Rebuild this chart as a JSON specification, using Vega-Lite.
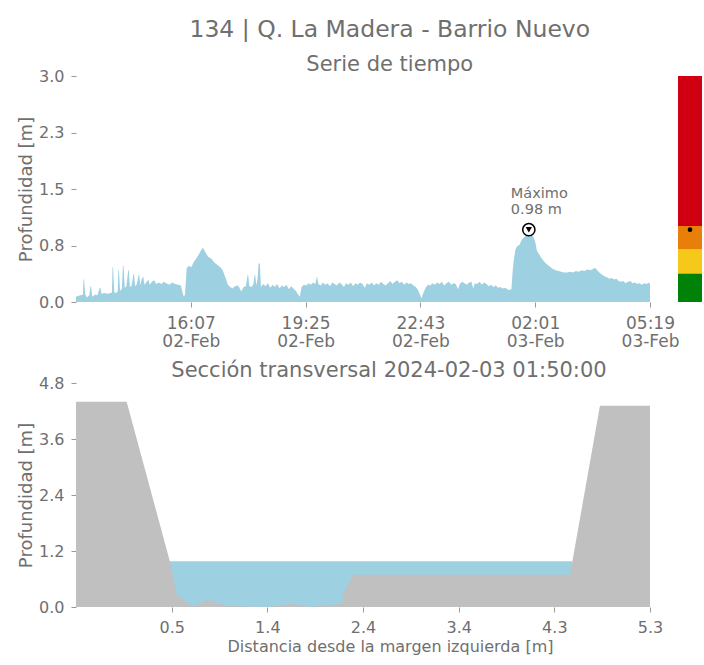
{
  "$schema": "https://vega.github.io/schema/vega-lite/v6.json",
  "background": "white",
  "padding": {"left": 17, "top": 17, "right": 2, "bottom": 5},
  "title": {"text": "134 | Q. La Madera - Barrio Nuevo", "fontSize": 23.5, "anchor": "middle", "offset": 8, "dx": 30, "dy": -5},
  "datasets": {
    "ts": [
      {"t": "2024-02-02T12:49", "v": 0.07}, {"t": "2024-02-02T12:52", "v": 0.08}, {"t": "2024-02-02T12:57", "v": 0.09},
      {"t": "2024-02-02T13:01", "v": 0.10}, {"t": "2024-02-02T13:02", "v": 0.30}, {"t": "2024-02-02T13:03", "v": 0.30}, {"t": "2024-02-02T13:05", "v": 0.10},
      {"t": "2024-02-02T13:08", "v": 0.06}, {"t": "2024-02-02T13:12", "v": 0.09}, {"t": "2024-02-02T13:14", "v": 0.21}, {"t": "2024-02-02T13:15", "v": 0.21},
      {"t": "2024-02-02T13:17", "v": 0.07}, {"t": "2024-02-02T13:22", "v": 0.10}, {"t": "2024-02-02T13:26", "v": 0.09},
      {"t": "2024-02-02T13:30", "v": 0.19}, {"t": "2024-02-02T13:31", "v": 0.19}, {"t": "2024-02-02T13:33", "v": 0.11}, {"t": "2024-02-02T13:38", "v": 0.12},
      {"t": "2024-02-02T13:44", "v": 0.11}, {"t": "2024-02-02T13:49", "v": 0.12}, {"t": "2024-02-02T13:51", "v": 0.13},
      {"t": "2024-02-02T13:52", "v": 0.46}, {"t": "2024-02-02T13:53", "v": 0.46}, {"t": "2024-02-02T13:55", "v": 0.13}, {"t": "2024-02-02T13:58", "v": 0.12},
      {"t": "2024-02-02T14:01", "v": 0.14}, {"t": "2024-02-02T14:02", "v": 0.42}, {"t": "2024-02-02T14:03", "v": 0.42}, {"t": "2024-02-02T14:05", "v": 0.15},
      {"t": "2024-02-02T14:08", "v": 0.17}, {"t": "2024-02-02T14:10", "v": 0.48}, {"t": "2024-02-02T14:11", "v": 0.48}, {"t": "2024-02-02T14:13", "v": 0.19},
      {"t": "2024-02-02T14:16", "v": 0.21}, {"t": "2024-02-02T14:19", "v": 0.42}, {"t": "2024-02-02T14:20", "v": 0.42}, {"t": "2024-02-02T14:22", "v": 0.20},
      {"t": "2024-02-02T14:25", "v": 0.22}, {"t": "2024-02-02T14:28", "v": 0.37}, {"t": "2024-02-02T14:29", "v": 0.37}, {"t": "2024-02-02T14:31", "v": 0.21},
      {"t": "2024-02-02T14:34", "v": 0.24}, {"t": "2024-02-02T14:37", "v": 0.36}, {"t": "2024-02-02T14:38", "v": 0.36}, {"t": "2024-02-02T14:40", "v": 0.22},
      {"t": "2024-02-02T14:42", "v": 0.30}, {"t": "2024-02-02T14:45", "v": 0.34}, {"t": "2024-02-02T14:47", "v": 0.23},
      {"t": "2024-02-02T14:50", "v": 0.26}, {"t": "2024-02-02T14:54", "v": 0.30}, {"t": "2024-02-02T14:56", "v": 0.23},
      {"t": "2024-02-02T15:00", "v": 0.27}, {"t": "2024-02-02T15:04", "v": 0.29}, {"t": "2024-02-02T15:07", "v": 0.24},
      {"t": "2024-02-02T15:12", "v": 0.26}, {"t": "2024-02-02T15:17", "v": 0.24}, {"t": "2024-02-02T15:20", "v": 0.27},
      {"t": "2024-02-02T15:25", "v": 0.25}, {"t": "2024-02-02T15:30", "v": 0.23}, {"t": "2024-02-02T15:35", "v": 0.26},
      {"t": "2024-02-02T15:40", "v": 0.24}, {"t": "2024-02-02T15:45", "v": 0.23}, {"t": "2024-02-02T15:50", "v": 0.22},
      {"t": "2024-02-02T15:53", "v": 0.12}, {"t": "2024-02-02T15:55", "v": 0.07}, {"t": "2024-02-02T15:57", "v": 0.10},
      {"t": "2024-02-02T16:00", "v": 0.45}, {"t": "2024-02-02T16:04", "v": 0.48}, {"t": "2024-02-02T16:08", "v": 0.46},
      {"t": "2024-02-02T16:12", "v": 0.53}, {"t": "2024-02-02T16:15", "v": 0.56}, {"t": "2024-02-02T16:20", "v": 0.62},
      {"t": "2024-02-02T16:25", "v": 0.69}, {"t": "2024-02-02T16:28", "v": 0.72}, {"t": "2024-02-02T16:32", "v": 0.66},
      {"t": "2024-02-02T16:37", "v": 0.60}, {"t": "2024-02-02T16:43", "v": 0.57}, {"t": "2024-02-02T16:48", "v": 0.52},
      {"t": "2024-02-02T16:53", "v": 0.49}, {"t": "2024-02-02T16:58", "v": 0.46}, {"t": "2024-02-02T17:02", "v": 0.42},
      {"t": "2024-02-02T17:05", "v": 0.36}, {"t": "2024-02-02T17:08", "v": 0.30}, {"t": "2024-02-02T17:11", "v": 0.23},
      {"t": "2024-02-02T17:15", "v": 0.20}, {"t": "2024-02-02T17:19", "v": 0.18}, {"t": "2024-02-02T17:23", "v": 0.21},
      {"t": "2024-02-02T17:28", "v": 0.22}, {"t": "2024-02-02T17:31", "v": 0.19}, {"t": "2024-02-02T17:34", "v": 0.14},
      {"t": "2024-02-02T17:38", "v": 0.20}, {"t": "2024-02-02T17:42", "v": 0.21}, {"t": "2024-02-02T17:45", "v": 0.36}, {"t": "2024-02-02T17:46", "v": 0.36},
      {"t": "2024-02-02T17:48", "v": 0.21}, {"t": "2024-02-02T17:52", "v": 0.20}, {"t": "2024-02-02T17:55", "v": 0.24},
      {"t": "2024-02-02T17:57", "v": 0.36}, {"t": "2024-02-02T17:58", "v": 0.36}, {"t": "2024-02-02T18:00", "v": 0.22}, {"t": "2024-02-02T18:02", "v": 0.30},
      {"t": "2024-02-02T18:04", "v": 0.51}, {"t": "2024-02-02T18:06", "v": 0.51}, {"t": "2024-02-02T18:08", "v": 0.20},
      {"t": "2024-02-02T18:12", "v": 0.24}, {"t": "2024-02-02T18:16", "v": 0.21}, {"t": "2024-02-02T18:20", "v": 0.25},
      {"t": "2024-02-02T18:24", "v": 0.19}, {"t": "2024-02-02T18:28", "v": 0.23}, {"t": "2024-02-02T18:32", "v": 0.20},
      {"t": "2024-02-02T18:36", "v": 0.24}, {"t": "2024-02-02T18:40", "v": 0.18}, {"t": "2024-02-02T18:44", "v": 0.22},
      {"t": "2024-02-02T18:48", "v": 0.20}, {"t": "2024-02-02T18:52", "v": 0.23}, {"t": "2024-02-02T18:56", "v": 0.17},
      {"t": "2024-02-02T19:00", "v": 0.21}, {"t": "2024-02-02T19:04", "v": 0.18}, {"t": "2024-02-02T19:08", "v": 0.15},
      {"t": "2024-02-02T19:12", "v": 0.10}, {"t": "2024-02-02T19:15", "v": 0.07}, {"t": "2024-02-02T19:18", "v": 0.20},
      {"t": "2024-02-02T19:22", "v": 0.23}, {"t": "2024-02-02T19:26", "v": 0.22}, {"t": "2024-02-02T19:30", "v": 0.25},
      {"t": "2024-02-02T19:34", "v": 0.23}, {"t": "2024-02-02T19:38", "v": 0.26}, {"t": "2024-02-02T19:42", "v": 0.24},
      {"t": "2024-02-02T19:44", "v": 0.33}, {"t": "2024-02-02T19:45", "v": 0.33}, {"t": "2024-02-02T19:47", "v": 0.24}, {"t": "2024-02-02T19:51", "v": 0.22},
      {"t": "2024-02-02T19:55", "v": 0.26}, {"t": "2024-02-02T19:59", "v": 0.23}, {"t": "2024-02-02T20:03", "v": 0.25},
      {"t": "2024-02-02T20:07", "v": 0.21}, {"t": "2024-02-02T20:11", "v": 0.26}, {"t": "2024-02-02T20:15", "v": 0.24},
      {"t": "2024-02-02T20:19", "v": 0.22}, {"t": "2024-02-02T20:23", "v": 0.26}, {"t": "2024-02-02T20:27", "v": 0.24},
      {"t": "2024-02-02T20:31", "v": 0.20}, {"t": "2024-02-02T20:35", "v": 0.25}, {"t": "2024-02-02T20:39", "v": 0.23},
      {"t": "2024-02-02T20:43", "v": 0.26}, {"t": "2024-02-02T20:47", "v": 0.21}, {"t": "2024-02-02T20:51", "v": 0.25},
      {"t": "2024-02-02T20:55", "v": 0.23}, {"t": "2024-02-02T20:59", "v": 0.26}, {"t": "2024-02-02T21:03", "v": 0.24},
      {"t": "2024-02-02T21:07", "v": 0.19}, {"t": "2024-02-02T21:11", "v": 0.25}, {"t": "2024-02-02T21:15", "v": 0.23},
      {"t": "2024-02-02T21:19", "v": 0.26}, {"t": "2024-02-02T21:23", "v": 0.22}, {"t": "2024-02-02T21:27", "v": 0.25},
      {"t": "2024-02-02T21:31", "v": 0.23}, {"t": "2024-02-02T21:35", "v": 0.27}, {"t": "2024-02-02T21:39", "v": 0.24},
      {"t": "2024-02-02T21:43", "v": 0.22}, {"t": "2024-02-02T21:47", "v": 0.25}, {"t": "2024-02-02T21:51", "v": 0.28},
      {"t": "2024-02-02T21:55", "v": 0.24}, {"t": "2024-02-02T21:59", "v": 0.27}, {"t": "2024-02-02T22:03", "v": 0.29},
      {"t": "2024-02-02T22:07", "v": 0.25}, {"t": "2024-02-02T22:11", "v": 0.27}, {"t": "2024-02-02T22:15", "v": 0.23},
      {"t": "2024-02-02T22:19", "v": 0.26}, {"t": "2024-02-02T22:23", "v": 0.24}, {"t": "2024-02-02T22:27", "v": 0.25},
      {"t": "2024-02-02T22:31", "v": 0.22}, {"t": "2024-02-02T22:35", "v": 0.20}, {"t": "2024-02-02T22:39", "v": 0.16},
      {"t": "2024-02-02T22:42", "v": 0.10}, {"t": "2024-02-02T22:45", "v": 0.05}, {"t": "2024-02-02T22:48", "v": 0.12},
      {"t": "2024-02-02T22:52", "v": 0.19}, {"t": "2024-02-02T22:56", "v": 0.23}, {"t": "2024-02-02T23:00", "v": 0.22},
      {"t": "2024-02-02T23:04", "v": 0.25}, {"t": "2024-02-02T23:08", "v": 0.23}, {"t": "2024-02-02T23:12", "v": 0.26},
      {"t": "2024-02-02T23:16", "v": 0.24}, {"t": "2024-02-02T23:20", "v": 0.27}, {"t": "2024-02-02T23:24", "v": 0.22},
      {"t": "2024-02-02T23:28", "v": 0.25}, {"t": "2024-02-02T23:32", "v": 0.27}, {"t": "2024-02-02T23:36", "v": 0.23},
      {"t": "2024-02-02T23:40", "v": 0.25}, {"t": "2024-02-02T23:44", "v": 0.24}, {"t": "2024-02-02T23:48", "v": 0.17},
      {"t": "2024-02-02T23:51", "v": 0.24}, {"t": "2024-02-02T23:55", "v": 0.27}, {"t": "2024-02-02T23:59", "v": 0.25},
      {"t": "2024-02-03T00:03", "v": 0.23}, {"t": "2024-02-03T00:07", "v": 0.26}, {"t": "2024-02-03T00:11", "v": 0.27},
      {"t": "2024-02-03T00:14", "v": 0.18}, {"t": "2024-02-03T00:17", "v": 0.25}, {"t": "2024-02-03T00:21", "v": 0.24},
      {"t": "2024-02-03T00:25", "v": 0.27}, {"t": "2024-02-03T00:29", "v": 0.23}, {"t": "2024-02-03T00:33", "v": 0.26},
      {"t": "2024-02-03T00:37", "v": 0.24}, {"t": "2024-02-03T00:41", "v": 0.21}, {"t": "2024-02-03T00:45", "v": 0.23},
      {"t": "2024-02-03T00:49", "v": 0.20}, {"t": "2024-02-03T00:53", "v": 0.22}, {"t": "2024-02-03T00:57", "v": 0.19},
      {"t": "2024-02-03T01:01", "v": 0.20}, {"t": "2024-02-03T01:05", "v": 0.18}, {"t": "2024-02-03T01:09", "v": 0.19},
      {"t": "2024-02-03T01:13", "v": 0.17}, {"t": "2024-02-03T01:16", "v": 0.16}, {"t": "2024-02-03T01:20", "v": 0.17},
      {"t": "2024-02-03T01:22", "v": 0.40}, {"t": "2024-02-03T01:24", "v": 0.55}, {"t": "2024-02-03T01:27", "v": 0.70},
      {"t": "2024-02-03T01:30", "v": 0.74}, {"t": "2024-02-03T01:34", "v": 0.76}, {"t": "2024-02-03T01:38", "v": 0.83},
      {"t": "2024-02-03T01:42", "v": 0.86}, {"t": "2024-02-03T01:46", "v": 0.90}, {"t": "2024-02-03T01:50", "v": 0.98},
      {"t": "2024-02-03T01:54", "v": 0.92}, {"t": "2024-02-03T01:58", "v": 0.86}, {"t": "2024-02-03T02:01", "v": 0.80},
      {"t": "2024-02-03T02:04", "v": 0.68}, {"t": "2024-02-03T02:08", "v": 0.63}, {"t": "2024-02-03T02:12", "v": 0.58},
      {"t": "2024-02-03T02:16", "v": 0.54}, {"t": "2024-02-03T02:21", "v": 0.50}, {"t": "2024-02-03T02:26", "v": 0.47},
      {"t": "2024-02-03T02:31", "v": 0.44}, {"t": "2024-02-03T02:36", "v": 0.42}, {"t": "2024-02-03T02:41", "v": 0.41},
      {"t": "2024-02-03T02:46", "v": 0.40}, {"t": "2024-02-03T02:51", "v": 0.39}, {"t": "2024-02-03T02:56", "v": 0.39},
      {"t": "2024-02-03T03:01", "v": 0.40}, {"t": "2024-02-03T03:06", "v": 0.39}, {"t": "2024-02-03T03:11", "v": 0.41},
      {"t": "2024-02-03T03:16", "v": 0.40}, {"t": "2024-02-03T03:21", "v": 0.42}, {"t": "2024-02-03T03:26", "v": 0.41},
      {"t": "2024-02-03T03:31", "v": 0.43}, {"t": "2024-02-03T03:36", "v": 0.42}, {"t": "2024-02-03T03:41", "v": 0.44},
      {"t": "2024-02-03T03:45", "v": 0.45}, {"t": "2024-02-03T03:49", "v": 0.41}, {"t": "2024-02-03T03:53", "v": 0.38},
      {"t": "2024-02-03T03:57", "v": 0.36}, {"t": "2024-02-03T04:01", "v": 0.34}, {"t": "2024-02-03T04:05", "v": 0.33},
      {"t": "2024-02-03T04:09", "v": 0.31}, {"t": "2024-02-03T04:13", "v": 0.32}, {"t": "2024-02-03T04:17", "v": 0.30},
      {"t": "2024-02-03T04:21", "v": 0.31}, {"t": "2024-02-03T04:25", "v": 0.28}, {"t": "2024-02-03T04:29", "v": 0.27},
      {"t": "2024-02-03T04:33", "v": 0.28}, {"t": "2024-02-03T04:37", "v": 0.25}, {"t": "2024-02-03T04:41", "v": 0.27},
      {"t": "2024-02-03T04:45", "v": 0.28}, {"t": "2024-02-03T04:49", "v": 0.25}, {"t": "2024-02-03T04:53", "v": 0.26},
      {"t": "2024-02-03T04:57", "v": 0.24}, {"t": "2024-02-03T05:01", "v": 0.25}, {"t": "2024-02-03T05:05", "v": 0.23},
      {"t": "2024-02-03T05:09", "v": 0.25}, {"t": "2024-02-03T05:13", "v": 0.24}, {"t": "2024-02-03T05:17", "v": 0.26},
      {"t": "2024-02-03T05:19", "v": 0.24}
    ],
    "mx": [{"t": "2024-02-03T01:50", "v": 0.96, "label": "Máximo\n0.98 m"}],
    "bands": [
      {"lo": 0, "hi": 0.38, "c": "#008208"},
      {"lo": 0.38, "hi": 0.70, "c": "#f6c81a"},
      {"lo": 0.70, "hi": 1.01, "c": "#e87f08"},
      {"lo": 1.01, "hi": 3.0, "c": "#d00012"}
    ],
    "sec": [
      {"d": -0.505, "z": 4.40}, {"d": 0.006, "z": 4.40}, {"d": 0.443, "z": 0.97}, {"d": 0.511, "z": 0.26},
      {"d": 0.672, "z": 0.01}, {"d": 0.826, "z": 0.15}, {"d": 1.015, "z": 0.02}, {"d": 1.419, "z": 0.0},
      {"d": 1.684, "z": 0.07}, {"d": 1.855, "z": 0.0}, {"d": 2.178, "z": 0.07}, {"d": 2.193, "z": 0.30},
      {"d": 2.292, "z": 0.69}, {"d": 4.478, "z": 0.69}, {"d": 4.780, "z": 4.31}, {"d": 5.285, "z": 4.31}
    ],
    "water": [{"d": 0.423, "z": 0.98}, {"d": 4.498, "z": 0.98}]
  },
  "vconcat": [
    {
      "title": {"text": "Serie de tiempo", "fontSize": 21, "anchor": "middle", "offset": 2, "dx": 30, "dy": 9},
      "spacing": 28,
      "bounds": "flush",
      "hconcat": [
        {
          "width": 574,
          "height": 226,
          "layer": [
            {
              "data": {"name": "ts"},
              "mark": {"type": "area", "color": "#9dd0e0", "opacity": 1},
              "encoding": {
                "x": {
                  "field": "t", "type": "temporal",
                  "scale": {"domain": [{"year": 2024, "month": 2, "date": 2, "hours": 12, "minutes": 49}, {"year": 2024, "month": 2, "date": 3, "hours": 5, "minutes": 19}]},
                  "axis": {
                    "title": null,
                    "values": [
                      {"year": 2024, "month": 2, "date": 2, "hours": 16, "minutes": 7},
                      {"year": 2024, "month": 2, "date": 2, "hours": 19, "minutes": 25},
                      {"year": 2024, "month": 2, "date": 2, "hours": 22, "minutes": 43},
                      {"year": 2024, "month": 2, "date": 3, "hours": 2, "minutes": 1},
                      {"year": 2024, "month": 2, "date": 3, "hours": 5, "minutes": 19}
                    ],
                    "labelExpr": "[timeFormat(datum.value, '%H:%M'), timeFormat(datum.value, '%d-%b')]",
                    "labelFontSize": 17,
                    "labelLineHeight": 18,
                    "labelPadding": 8
                  }
                },
                "y": {
                  "field": "v", "type": "quantitative",
                  "scale": {"domain": [0, 3], "nice": false},
                  "axis": {"values": [0, 0.75, 1.5, 2.25, 3], "format": ".1f", "title": "Profundidad [m]"}
                }
              }
            },
            {
              "data": {"name": "mx"},
              "mark": {"type": "point", "shape": "circle", "filled": true, "fill": "white", "stroke": "black", "strokeWidth": 1.5, "size": 150, "opacity": 1},
              "encoding": {"x": {"field": "t", "type": "temporal"}, "y": {"field": "v", "type": "quantitative"}}
            },
            {
              "data": {"name": "mx"},
              "mark": {"type": "point", "shape": "triangle-down", "filled": true, "color": "black", "size": 40, "opacity": 1},
              "encoding": {"x": {"field": "t", "type": "temporal"}, "y": {"field": "v", "type": "quantitative"}}
            },
            {
              "data": {"name": "mx"},
              "mark": {"type": "text", "align": "left", "baseline": "alphabetic", "dx": -18, "dy": -32, "fontSize": 14.5, "color": "#6f6f6f", "lineBreak": "\n", "lineHeight": 16},
              "encoding": {"x": {"field": "t", "type": "temporal"}, "y": {"field": "v", "type": "quantitative"}, "text": {"field": "label"}}
            }
          ]
        },
        {
          "width": 24,
          "height": 226,
          "layer": [
            {
              "data": {"name": "bands"},
              "mark": {"type": "rect"},
              "encoding": {
                "y": {"field": "lo", "type": "quantitative", "scale": {"domain": [0, 3], "nice": false}, "axis": null},
                "y2": {"field": "hi"},
                "color": {"field": "c", "type": "nominal", "scale": null}
              }
            },
            {
              "data": {"name": "mx"},
              "mark": {"type": "point", "filled": true, "color": "black", "size": 22, "opacity": 1},
              "encoding": {"y": {"field": "v", "type": "quantitative"}}
            }
          ]
        }
      ]
    },
    {
      "width": 574,
      "height": 224,
      "title": {"text": "Sección transversal 2024-02-03 01:50:00", "fontSize": 21, "anchor": "middle", "dx": 26, "offset": 2, "dy": 8},
      "layer": [
        {
          "data": {"name": "water"},
          "mark": {"type": "area", "color": "#9dd0e0", "opacity": 1},
          "encoding": {
            "x": {
              "field": "d", "type": "quantitative",
              "scale": {"domain": [-0.505, 5.285], "nice": false, "zero": false},
              "axis": {"values": [0.46, 1.425, 2.39, 3.355, 4.32, 5.285], "format": ".1f", "title": "Distancia desde la margen izquierda [m]", "titleFontSize": 16, "titleX": 314, "titleY": 44, "titleBaseline": "alphabetic", "titleAlign": "center"}
            },
            "y": {
              "field": "z", "type": "quantitative",
              "scale": {"domain": [0, 4.8], "nice": false},
              "axis": {"values": [0, 1.2, 2.4, 3.6, 4.8], "format": ".1f", "title": "Profundidad [m]"}
            }
          }
        },
        {
          "data": {"name": "sec"},
          "mark": {"type": "area", "color": "#c0c0c0", "opacity": 1},
          "encoding": {"x": {"field": "d", "type": "quantitative"}, "y": {"field": "z", "type": "quantitative"}}
        }
      ]
    }
  ],
  "spacing": 307,
  "bounds": "flush",
  "config": {
    "font": "DejaVu Sans",
    "view": {"stroke": null},
    "axis": {
      "domain": false, "grid": false,
      "labelColor": "#6f6f6f", "titleColor": "#6f6f6f", "tickColor": "#999999",
      "tickSize": 5, "labelFontSize": 16, "titleFontSize": 18, "titleFontWeight": "normal",
      "labelPadding": 7, "titlePadding": 3,
      "labelFlush": false, "labelOverlap": false, "labelBound": false
    },
    "title": {"color": "#6f6f6f", "fontWeight": "normal", "font": "DejaVu Sans"}
  }
}
